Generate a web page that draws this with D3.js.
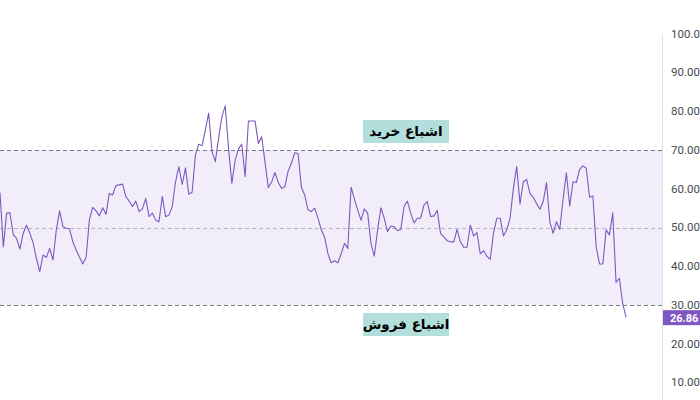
<!DOCTYPE html>
<html>
<head>
<meta charset="utf-8">
<script src="https://cdn.jsdelivr.net/npm/d3@7"></script>
<style>
  html, body { margin: 0; padding: 0; background: #fff; }
  svg { display: block; }
</style>
</head>
<body>
<div id="chart"></div>
<script>
// RSI values, one per bar
const rsiValues = [
  59.0, 45.0, 53.7, 53.8, 48.1, 47.2, 44.4, 48.5, 50.6, 48.6, 46.0, 42.0, 38.6, 42.9, 42.3, 44.6,
  41.6, 49.4, 54.3, 50.2, 49.8, 49.6, 46.3, 44.2, 42.3, 40.6, 42.3, 52.1, 55.2, 54.3, 53.0, 55.1, 53.4,
  58.8, 58.4, 60.8, 61.0, 61.2, 58.0, 56.8, 55.4, 56.8, 54.1, 54.8, 57.5, 52.8, 53.7, 51.9, 51.5,
  58.0, 52.8, 53.2, 55.4, 61.8, 65.7, 61.1, 65.4, 58.6, 59.1, 68.7, 71.5, 71.1, 75.2, 79.5, 69.6, 67.0,
  73.0, 78.6, 81.4, 70.4, 61.4, 67.4, 70.3, 71.5, 63.1, 77.5, 77.5, 77.5, 71.7, 73.4, 67.0, 60.3,
  61.7, 64.2, 61.7, 60.1, 60.5, 64.6, 66.6, 69.3, 69.1, 60.3, 58.4, 54.5, 54.1, 55.0, 52.4,
  49.4, 47.5, 43.3, 40.9, 41.4, 40.9, 43.2, 45.9, 44.6, 60.4, 57.3, 54.5, 51.9, 54.8, 53.7, 45.9,
  42.6, 49.4, 55.1, 52.4, 48.9, 50.4, 50.2, 49.2, 49.5, 55.4, 56.8, 53.7, 51.2, 52.4, 52.4,
  55.8, 56.7, 52.8, 53.0, 54.4, 48.5, 47.6, 46.6, 46.3, 46.3, 49.5, 46.3, 44.9, 44.9, 50.6, 47.8,
  48.7, 43.2, 44.0, 42.6, 41.8, 48.5, 52.4, 52.4, 47.8, 49.4, 52.4, 60.1, 65.7, 56.1,
  61.8, 62.4, 58.8, 57.8, 56.2, 54.7, 56.7, 61.6, 51.5, 48.5, 51.5, 49.5, 57.3, 64.1, 55.5, 61.8,
  61.6, 65.0, 65.9, 65.3, 57.8, 58.1, 45.0, 40.6, 40.6, 49.4, 48.1, 53.8, 35.8, 36.9, 30.4, 26.86
];
const yTicks = [10, 20, 30, 40, 50, 60, 70, 80, 90, 100];
const bandLevels = [30, 50, 70];
const zoneLabels = ["اشباع خرید", "اشباع فروش"];
const zoneLevels = [70, 30];

const width = 700, height = 400;
const plotRight = 662;

const svg = d3.select("#chart").append("svg")
    .attr("width", width)
    .attr("height", height);

const x = d3.scaleLinear()
    .domain([0, rsiValues.length - 1])
    .range([0, 626]);

const y = d3.scaleLinear()
    .domain([0, 100])
    .range([421.25, 33.75]);

// shaded band between 30 and 70
svg.append("rect")
    .attr("x", 0)
    .attr("y", y(70))
    .attr("width", plotRight)
    .attr("height", y(30) - y(70))
    .attr("fill", "rgba(126,87,194,0.1)");

// dashed level lines
svg.selectAll("line.level")
    .data(bandLevels)
    .enter()
    .append("line")
        .attr("class", "level")
        .attr("x1", 0)
        .attr("x2", plotRight)
        .attr("y1", d => Math.round(y(d)) + 0.5)
        .attr("y2", d => Math.round(y(d)) + 0.5)
        .attr("stroke", d => d === 50 ? "rgba(120,123,134,0.5)" : "#787b86")
        .attr("stroke-width", 1)
        .attr("stroke-dasharray", "4,3");

// rsi line
const line = d3.line()
    .x((d, i) => x(i))
    .y(d => y(d));

svg.append("path")
    .datum(rsiValues)
    .attr("d", line)
    .attr("fill", "none")
    .attr("stroke", "#7e57c2")
    .attr("stroke-width", 1.1)
    .attr("stroke-linejoin", "round");

// right price axis
const axis = svg.append("g")
    .attr("transform", `translate(${plotRight},0)`)
    .call(d3.axisRight(y).tickValues(yTicks).tickFormat(d3.format(".2f")).tickSize(0).tickPadding(9));
axis.select(".domain").attr("stroke", "#e0e3eb");
axis.selectAll("text")
    .attr("fill", "#4a4a4a")
    .attr("dy", "0.3em")
    .style("font-family", "Roboto, 'Noto Sans', sans-serif")
    .style("font-size", "11.5px");

// last value badge
const lastVal = rsiValues[rsiValues.length - 1];
svg.append("rect")
    .attr("x", plotRight + 1)
    .attr("y", y(lastVal) - 7)
    .attr("width", width - plotRight)
    .attr("height", 15)
    .attr("fill", "#7e57c2");
svg.append("text")
    .attr("x", plotRight + 8)
    .attr("y", y(lastVal) + 0.5)
    .attr("dy", "0.35em")
    .attr("fill", "#fff")
    .style("font-family", "Roboto, 'Noto Sans', sans-serif")
    .style("font-size", "11px")
    .style("font-weight", "bold")
    .text(d3.format(".2f")(lastVal));

// overbought / oversold tags
const tags = svg.selectAll("g.tag")
    .data(zoneLabels)
    .enter()
    .append("g")
        .attr("class", "tag")
        .attr("transform", (d, i) => {
            let lv = zoneLevels[i];
            let top = lv > 50 ? y(lv) - 30 : y(lv) + 8;
            return `translate(406,${top})`;
        });

tags.append("rect")
    .attr("x", -43)
    .attr("y", 0)
    .attr("width", 86)
    .attr("height", 23)
    .attr("fill", "#b2dfdb");

tags.append("text")
    .attr("x", 0)
    .attr("y", 11.5)
    .attr("dy", "0.35em")
    .attr("text-anchor", "middle")
    .attr("direction", "rtl")
    .attr("fill", "#000")
    .style("font-family", "'DejaVu Sans', sans-serif")
    .style("font-size", "13.5px")
    .style("font-weight", "bold")
    .text(d => d);
</script>
</body>
</html>
